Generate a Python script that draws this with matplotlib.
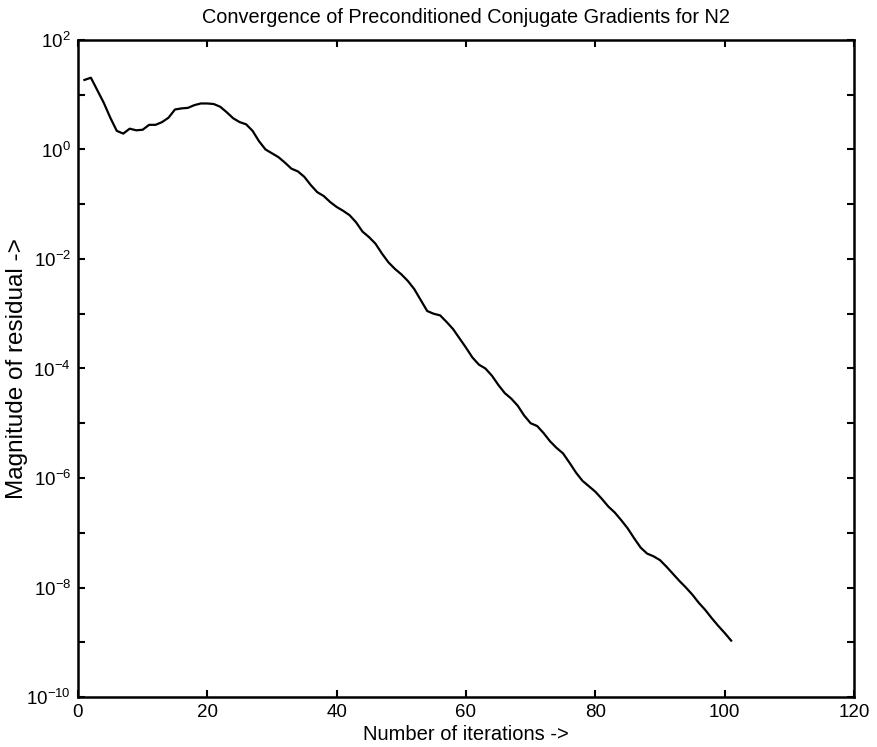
import numpy as np
import matplotlib
matplotlib.use('Agg')
import matplotlib.pyplot as plt

plt.rcParams['font.family'] = ['Liberation Sans', 'DejaVu Sans']
plt.rcParams['mathtext.fontset'] = 'custom'
plt.rcParams['mathtext.rm'] = 'Liberation Sans'
plt.rcParams['mathtext.it'] = 'Liberation Sans'

# Residual (log10) per iteration
iterations = list(range(1, 102))
log_residual = [
    1.27, 1.31, 1.08, 0.85, 0.58, 0.34, 0.29, 0.38, 0.35, 0.36,
    0.45, 0.45, 0.50, 0.58, 0.73, 0.75, 0.76, 0.81, 0.84, 0.84,
    0.83, 0.78, 0.68, 0.57, 0.50, 0.46, 0.34, 0.15, 0.00, -0.07,
    -0.14, -0.24, -0.35, -0.40, -0.50, -0.65, -0.78, -0.85, -0.96, -1.05,
    -1.12, -1.20, -1.33, -1.50, -1.60, -1.72, -1.90, -2.06, -2.18, -2.28,
    -2.40, -2.55, -2.75, -2.95, -3.00, -3.03, -3.15, -3.28, -3.45, -3.62,
    -3.80, -3.93, -4.00, -4.13, -4.30, -4.45, -4.55, -4.68, -4.86, -5.00,
    -5.05, -5.18, -5.33, -5.45, -5.55, -5.72, -5.90, -6.05, -6.15, -6.25,
    -6.38, -6.52, -6.63, -6.77, -6.92, -7.10, -7.27, -7.38, -7.43, -7.50,
    -7.62, -7.75, -7.88, -8.00, -8.13, -8.28, -8.41, -8.56, -8.70, -8.83,
    -8.97,
]
residual = 10.0 ** np.array(log_residual)

x_ticks = [0, 20, 40, 60, 80, 100, 120]
y_exponents = list(range(-10, 3))

fig = plt.figure(figsize=(8.78, 7.47), dpi=100)
ax = fig.add_axes([0.0888, 0.0669, 0.8839, 0.8796])

ax.plot(iterations, residual, color='black', linewidth=1.6)
ax.set_yscale('log')
ax.set_xlim(0, 120)
ax.set_ylim(1e-10, 1e2)

ax.set_xticks(x_ticks)
ax.set_xticklabels([str(t) for t in x_ticks])
ax.set_yticks([10.0 ** k for k in y_exponents])
ax.set_yticklabels(['$10^{%d}$' % k if k % 2 == 0 else '' for k in y_exponents])
ax.minorticks_off()

ax.tick_params(direction='in', length=5, width=1.5, top=True, right=True,
               labelsize=13.5, pad=5)
for s in ax.spines.values():
    s.set_linewidth(1.8)

# nudge y labels down so the "10" sits on the tick, exponent above
for lbl in ax.get_yticklabels():
    lbl.set_verticalalignment('center_baseline')

ax.set_title('Convergence of Preconditioned Conjugate Gradients for N2',
             fontsize=14.3, pad=12)
ax.set_xlabel('Number of iterations ->', fontsize=14.5, labelpad=3)
ax.set_ylabel('Magnitude of residual ->', fontsize=17.5, labelpad=-1)

fig.savefig('out.png', dpi=100)
